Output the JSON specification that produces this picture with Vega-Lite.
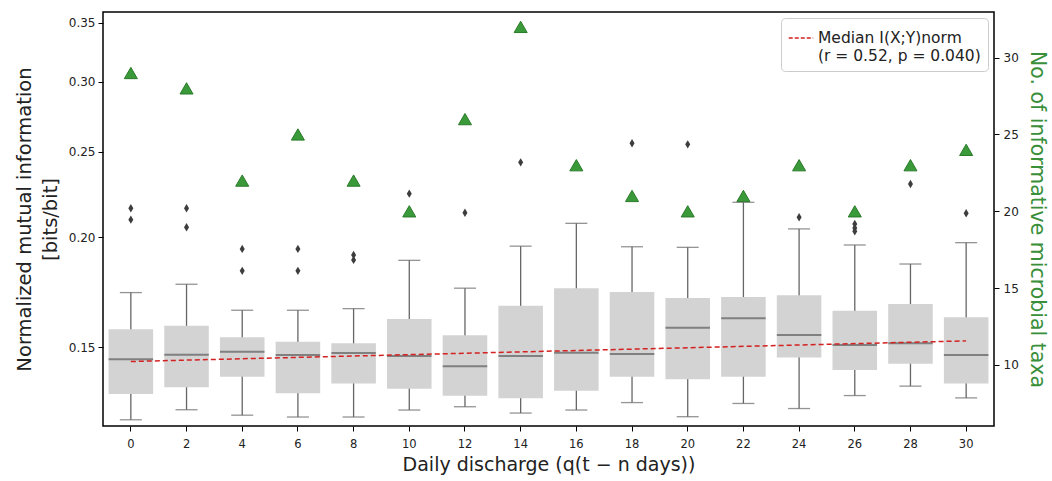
{
  "$schema": "https://vega.github.io/schema/vega-lite/v6.json",
  "width": 891,
  "height": 414,
  "autosize": {"type": "none"},
  "padding": {"left": 103, "top": 12, "right": 58, "bottom": 55},
  "config": {
    "font": "DejaVu Sans",
    "view": {"stroke": "black", "strokeWidth": 1.5},
    "axis": {"grid": false, "domain": false, "tickColor": "black", "tickSize": 5, "labelFont": "DejaVu Sans", "labelFontSize": 12, "labelColor": "#222", "titleFont": "DejaVu Sans", "titleFontSize": 19, "titleFontWeight": "normal", "titleColor": "#222"}
  },
  "datasets": {
    "boxes": [
      {"lag": "0", "lo": 0.1241, "q1": 0.1327, "med": 0.1454, "q3": 0.1572, "hi": 0.1730},
      {"lag": "2", "lo": 0.1274, "q1": 0.1351, "med": 0.1471, "q3": 0.1586, "hi": 0.1768},
      {"lag": "4", "lo": 0.1256, "q1": 0.1389, "med": 0.1482, "q3": 0.1540, "hi": 0.1652},
      {"lag": "6", "lo": 0.1250, "q1": 0.1330, "med": 0.1470, "q3": 0.1522, "hi": 0.1652},
      {"lag": "8", "lo": 0.1250, "q1": 0.1364, "med": 0.1477, "q3": 0.1516, "hi": 0.1659},
      {"lag": "10", "lo": 0.1273, "q1": 0.1346, "med": 0.1466, "q3": 0.1615, "hi": 0.1882},
      {"lag": "12", "lo": 0.1284, "q1": 0.1321, "med": 0.1427, "q3": 0.1548, "hi": 0.1750},
      {"lag": "14", "lo": 0.1263, "q1": 0.1313, "med": 0.1466, "q3": 0.1672, "hi": 0.1953},
      {"lag": "16", "lo": 0.1273, "q1": 0.1339, "med": 0.1478, "q3": 0.1750, "hi": 0.2073},
      {"lag": "18", "lo": 0.1298, "q1": 0.1389, "med": 0.1474, "q3": 0.1733, "hi": 0.1950},
      {"lag": "20", "lo": 0.1251, "q1": 0.1380, "med": 0.1578, "q3": 0.1706, "hi": 0.1947},
      {"lag": "22", "lo": 0.1295, "q1": 0.1389, "med": 0.1618, "q3": 0.1710, "hi": 0.2190},
      {"lag": "24", "lo": 0.1278, "q1": 0.1460, "med": 0.1549, "q3": 0.1718, "hi": 0.2043},
      {"lag": "26", "lo": 0.1322, "q1": 0.1413, "med": 0.1509, "q3": 0.1650, "hi": 0.1959},
      {"lag": "28", "lo": 0.1355, "q1": 0.1437, "med": 0.1516, "q3": 0.1679, "hi": 0.1864},
      {"lag": "30", "lo": 0.1314, "q1": 0.1364, "med": 0.1470, "q3": 0.1622, "hi": 0.1971}
    ],
    "outliers": [
      {"lag": "0", "v": 0.2156}, {"lag": "0", "v": 0.2093},
      {"lag": "2", "v": 0.2156}, {"lag": "2", "v": 0.2052},
      {"lag": "4", "v": 0.1939}, {"lag": "4", "v": 0.1831},
      {"lag": "6", "v": 0.1939}, {"lag": "6", "v": 0.1831},
      {"lag": "8", "v": 0.1909}, {"lag": "8", "v": 0.1884},
      {"lag": "10", "v": 0.2240},
      {"lag": "12", "v": 0.2131},
      {"lag": "14", "v": 0.2431},
      {"lag": "18", "v": 0.2555},
      {"lag": "20", "v": 0.2548},
      {"lag": "24", "v": 0.2106},
      {"lag": "26", "v": 0.2070}, {"lag": "26", "v": 0.2048}, {"lag": "26", "v": 0.2030},
      {"lag": "28", "v": 0.2297},
      {"lag": "30", "v": 0.2128}
    ],
    "taxa": [
      {"lag": "0", "n": 29}, {"lag": "2", "n": 28}, {"lag": "4", "n": 22}, {"lag": "6", "n": 25},
      {"lag": "8", "n": 22}, {"lag": "10", "n": 20}, {"lag": "12", "n": 26}, {"lag": "14", "n": 32},
      {"lag": "16", "n": 23}, {"lag": "18", "n": 21}, {"lag": "20", "n": 20}, {"lag": "22", "n": 21},
      {"lag": "24", "n": 23}, {"lag": "26", "n": 20}, {"lag": "28", "n": 23}, {"lag": "30", "n": 24}
    ],
    "trend": [
      {"lag": "0", "v": 0.1445, "series": "Median I(X;Y)norm"},
      {"lag": "30", "v": 0.1525, "series": "Median I(X;Y)norm"}
    ]
  },
  "encoding": {
    "x": {
      "field": "lag", "type": "ordinal", "sort": null,
      "scale": {"type": "band", "domain": ["0","2","4","6","8","10","12","14","16","18","20","22","24","26","28","30"], "paddingInner": 0, "paddingOuter": 0},
      "axis": {"title": "Daily discharge (q(t − n days))", "labelAngle": 0, "labelPadding": 7, "titlePadding": 6, "labelFontSize": 11.5}
    }
  },
  "layer": [
    {
      "layer": [
        {
          "data": {"name": "boxes"},
          "mark": {"type": "rule", "color": "#666666", "strokeWidth": 1.3},
          "encoding": {
            "y": {"field": "lo", "type": "quantitative", "scale": {"type": "log", "domain": [0.1221, 0.36], "nice": false}, "axis": {"title": ["Normalized mutual information", "[bits/bit]"], "titleLineHeight": 26, "titleFontSize": 19.5, "values": [0.15, 0.2, 0.25, 0.3, 0.35], "format": ".2f", "labelPadding": 3, "titlePadding": 8}},
            "y2": {"field": "hi"}
          }
        },
        {
          "data": {"name": "boxes"},
          "mark": {"type": "tick", "color": "#666666", "size": 22, "thickness": 1.3},
          "encoding": {"y": {"field": "lo", "type": "quantitative"}}
        },
        {
          "data": {"name": "boxes"},
          "mark": {"type": "tick", "color": "#666666", "size": 22, "thickness": 1.3},
          "encoding": {"y": {"field": "hi", "type": "quantitative"}}
        },
        {
          "data": {"name": "boxes"},
          "mark": {"type": "bar", "color": "#d3d3d3", "width": {"band": 0.8}},
          "encoding": {"y": {"field": "q1", "type": "quantitative"}, "y2": {"field": "q3"}}
        },
        {
          "data": {"name": "boxes"},
          "mark": {"type": "tick", "color": "#5c5c5c", "size": 44.5, "thickness": 2},
          "encoding": {"y": {"field": "med", "type": "quantitative"}}
        },
        {
          "data": {"name": "outliers"},
          "mark": {"type": "point", "shape": "M0,-1L0.6,0L0,1L-0.6,0Z", "filled": true, "color": "#3d3d3d", "size": 70, "opacity": 1},
          "encoding": {"y": {"field": "v", "type": "quantitative"}}
        },
        {
          "data": {"name": "trend"},
          "mark": {"type": "line", "strokeDash": [5, 3], "strokeWidth": 1.5},
          "encoding": {
            "y": {"field": "v", "type": "quantitative"},
            "color": {"field": "series", "type": "nominal", "scale": {"range": ["#d42020"]},
              "legend": {"title": null, "orient": "top-right", "offset": 6, "symbolType": "stroke", "symbolDash": [4, 2], "symbolStrokeWidth": 1.5, "symbolSize": 600, "labelFontSize": 15.5, "labelFont": "DejaVu Sans", "labelColor": "#222", "labelLimit": 400,
                "labelExpr": "['Median I(X;Y)norm', '(r = 0.52, p = 0.040)']",
                "fillColor": "white", "strokeColor": "#cccccc", "cornerRadius": 4, "padding": 7}}
          }
        }
      ]
    },
    {
      "data": {"name": "taxa"},
      "mark": {"type": "point", "shape": "triangle-up", "filled": true, "fill": "#3a9a3a", "stroke": "#2a7a2a", "strokeWidth": 1, "size": 170, "opacity": 1},
      "encoding": {
        "y": {"field": "n", "type": "quantitative", "scale": {"domain": [6.03, 32.97], "nice": false, "zero": false},
          "axis": {"orient": "right", "title": "No. of informative microbial taxa", "titleColor": "#3a8f3a", "titleFontSize": 20.5, "values": [10, 15, 20, 25, 30], "labelPadding": 4, "titlePadding": 8}}
      }
    }
  ],
  "resolve": {"scale": {"y": "independent"}}
}
